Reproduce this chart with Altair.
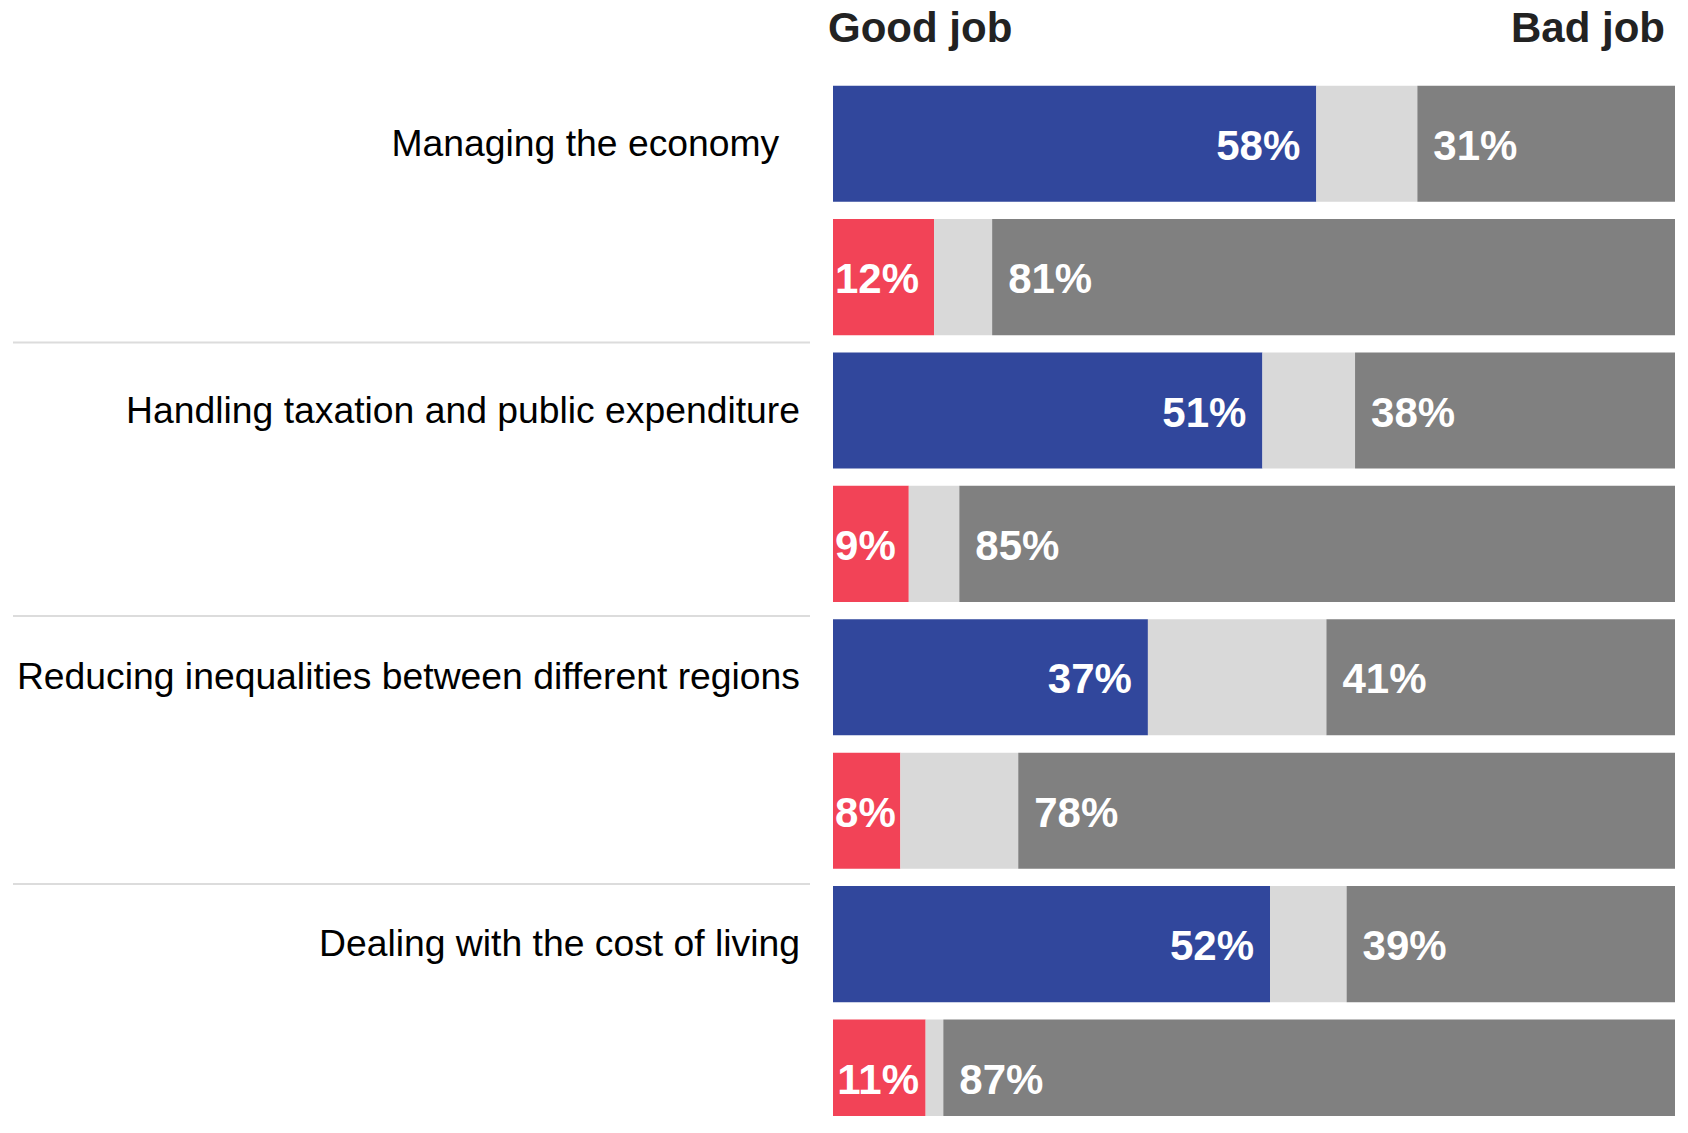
import altair as alt
import pandas as pd

# ---- data ----
categories = [
    "Managing the economy\u00a0\u00a0\u200b",
    "Handling taxation and public expenditure",
    "Reducing inequalities between different regions",
    "Dealing with the cost of living",
]
parties = ["Blue", "Red"]
good_job = [57.4, 12.0, 51.0, 9.0, 37.4, 8.0, 51.9, 11.0]
neither = [12.0, 6.9, 11.0, 6.0, 21.2, 14.0, 9.1, 2.1]
bad_job = [30.6, 81.1, 38.0, 85.0, 41.4, 78.0, 39.0, 86.9]
good_labels = ["58%", "12%", "51%", "9%", "37%", "8%", "52%", "11%"]
bad_labels = ["31%", "81%", "38%", "85%", "41%", "78%", "39%", "87%"]
headings = ["Good job", "Bad job"]
separators = [1.99, 4.04, 6.05]  # in bar-row units

seg_names = ["Blue good", "Red good", "Neither", "Bad"]
seg_colors = ["#31479C", "#F24357", "#D9D9D9", "#808080"]

FONT = "Liberation Sans"

rows = [f"r{i}" for i in range(len(good_job))]
recs = []
for i, r in enumerate(rows):
    party = parties[i % 2]
    recs.append(dict(row=r, seg=f"{party} good", value=good_job[i], order=0))
    recs.append(dict(row=r, seg="Neither", value=neither[i], order=1))
    recs.append(dict(row=r, seg="Bad", value=bad_job[i], order=2))
bars_df = pd.DataFrame(recs)

labels_df = pd.DataFrame({
    "row": rows,
    "good_end": good_job,
    "bad_start": [g + n for g, n in zip(good_job, neither)],
    "good_label": good_labels,
    "bad_label": bad_labels,
})
cat_df = pd.DataFrame({"row": rows[0::2], "category": categories})
sep_df = pd.DataFrame({"b": separators})
good_head = pd.DataFrame({"t": [headings[0]], "pos": [0]})
bad_head = pd.DataFrame({"t": [headings[1]], "pos": [100]})

xscale = alt.Scale(domain=[0, 100], nice=False, zero=True)
yband = alt.Scale(domain=rows, paddingInner=0.13, paddingOuter=0.065, range=[0, 1067.2])

bars = alt.Chart(bars_df).mark_bar(clip=True).encode(
    x=alt.X("value:Q", stack="zero", scale=xscale, axis=None),
    y=alt.Y("row:N", scale=yband, axis=None),
    color=alt.Color("seg:N", scale=alt.Scale(domain=seg_names, range=seg_colors), legend=None),
    order=alt.Order("order:Q"),
)

# keep the good-job label inside the bar when the bar is narrow
good_txt = alt.Chart(labels_df).transform_calculate(
    lx="max(datum.good_end - 1.9, (length(datum.good_label) - 1) * 2.77 + 4.68)"
).mark_text(
    align="right", baseline="middle", dy=3, fontSize=42, fontWeight="bold",
    font=FONT, color="white",
).encode(
    x=alt.X("lx:Q", scale=xscale, axis=None),
    y=alt.Y("row:N", scale=yband, axis=None),
    text="good_label:N",
)

bad_txt = alt.Chart(labels_df).mark_text(
    align="left", baseline="middle", dx=16, dy=3, fontSize=42, fontWeight="bold",
    font=FONT, color="white",
).encode(
    x=alt.X("bad_start:Q", scale=xscale, axis=None),
    y=alt.Y("row:N", scale=yband, axis=None),
    text="bad_label:N",
)

cat_txt = alt.Chart(cat_df).mark_text(
    align="right", baseline="middle", dy=1, fontSize=37.3, font=FONT, color="#000000",
).encode(
    x=alt.value(-33),
    y=alt.Y("row:N", scale=yband, axis=None),
    text="category:N",
)

rules = alt.Chart(sep_df).mark_rule(color="#DCDCDC", strokeWidth=2).encode(
    x=alt.value(-820),
    x2=alt.value(-23),
    y=alt.Y("b:Q", scale=alt.Scale(domain=[0, 8], range=[0, 1067.2]), axis=None),
)

good_h = alt.Chart(good_head).mark_text(
    align="left", baseline="alphabetic", dx=-5, fontSize=42, fontWeight="bold",
    font=FONT, color="#222222",
).encode(
    x=alt.X("pos:Q", scale=xscale, axis=None),
    y=alt.value(-35),
    text="t:N",
)

bad_h = alt.Chart(bad_head).mark_text(
    align="right", baseline="alphabetic", dx=-10, fontSize=42, fontWeight="bold",
    font=FONT, color="#222222",
).encode(
    x=alt.X("pos:Q", scale=xscale, axis=None),
    y=alt.value(-35),
    text="t:N",
)

chart = alt.layer(
    rules, bars, good_txt, bad_txt, cat_txt, good_h, bad_h
).resolve_scale(
    y="independent"
).properties(
    width=842,
    height=1039,
    autosize=alt.AutoSizeParams(type="none"),
    padding={"left": 825, "top": 69, "right": 5, "bottom": 0},
).configure_view(strokeWidth=0)

chart.save("out.html", embed_options={"renderer": "svg", "actions": False})
